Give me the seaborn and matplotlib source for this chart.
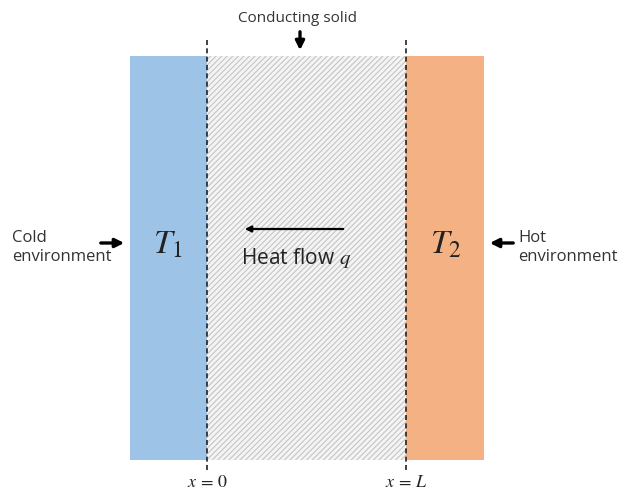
import matplotlib.pyplot as plt
import seaborn as sns

# ----------------------------
# DATA (diagram layout, pixel units)
# ----------------------------
region_names = ["cold wall", "solid", "hot wall"]
region_left = [130, 207, 406]
region_right = [207, 406, 484]
region_colors = ["#9dc3e6", "#f4f4f4", "#f4b183"]
region_hatch = [None, "//////", None]
wall_top, wall_bottom = 56, 460

boundary_x = [207, 406]
boundary_labels = [r"$x\,=\,0$", r"$x\,=\,L$"]
temp_labels = [r"$T_1$", r"$T_2$"]
temp_x = [168, 446]

sns.set_theme(style="white")
plt.rcParams['font.family'] = ['Open Sans', 'DejaVu Sans']
plt.rcParams['mathtext.fontset'] = 'stix'
plt.rcParams['hatch.color'] = '#c4c4c4'
plt.rcParams['hatch.linewidth'] = 0.8

fig = plt.figure(figsize=(6.22, 4.94), dpi=100)
ax = fig.add_axes([0, 0, 1, 1])
ax.set_xlim(0, 622)
ax.set_ylim(494, 0)
ax.axis("off")

# wall + solid blocks
widths = [r - l for l, r in zip(region_left, region_right)]
for l, w, c, h in zip(region_left, widths, region_colors, region_hatch):
    ax.bar(l, wall_bottom - wall_top, width=w, bottom=wall_top, align="edge",
           color=c, hatch=h, edgecolor="#c4c4c4" if h else c, linewidth=0)

# dashed boundaries
for bx, lab in zip(boundary_x, boundary_labels):
    ax.plot([bx, bx], [40, 472], ls=(0, (3, 2)), color="#222222", lw=1.2)
    ax.text(bx, 482, lab, ha="center", va="center", fontsize=13, color="#222222")

for tx, lab in zip(temp_x, temp_labels):
    ax.text(tx, 245, lab, ha="center", va="center", fontsize=24, color="#222222")

arrow = dict(arrowstyle="-|>", color="black", lw=2.4, mutation_scale=13)

# conducting solid label
ax.text(297, 18, "Conducting solid", ha="center", va="center", fontsize=11, color="#333333")
ax.annotate("", xy=(300, 53), xytext=(300, 29), arrowprops=arrow)

# environments
ax.text(12, 247, "Cold\nenvironment", ha="left", va="center", fontsize=12,
        color="#333333", linespacing=1.25)
ax.annotate("", xy=(127, 243), xytext=(98, 243), arrowprops=arrow)
ax.text(518, 247, "Hot\nenvironment", ha="left", va="center", fontsize=12,
        color="#333333", linespacing=1.25)
ax.annotate("", xy=(487, 243), xytext=(516, 243), arrowprops=arrow)

# heat flow
ax.annotate("", xy=(242, 229), xytext=(346, 229),
            arrowprops=dict(arrowstyle="-|>", color="black", lw=1.6, mutation_scale=9))
ax.text(296, 258, r"Heat flow $q$", ha="center", va="center", fontsize=15, color="#222222")

fig.savefig("out.png", dpi=100)
